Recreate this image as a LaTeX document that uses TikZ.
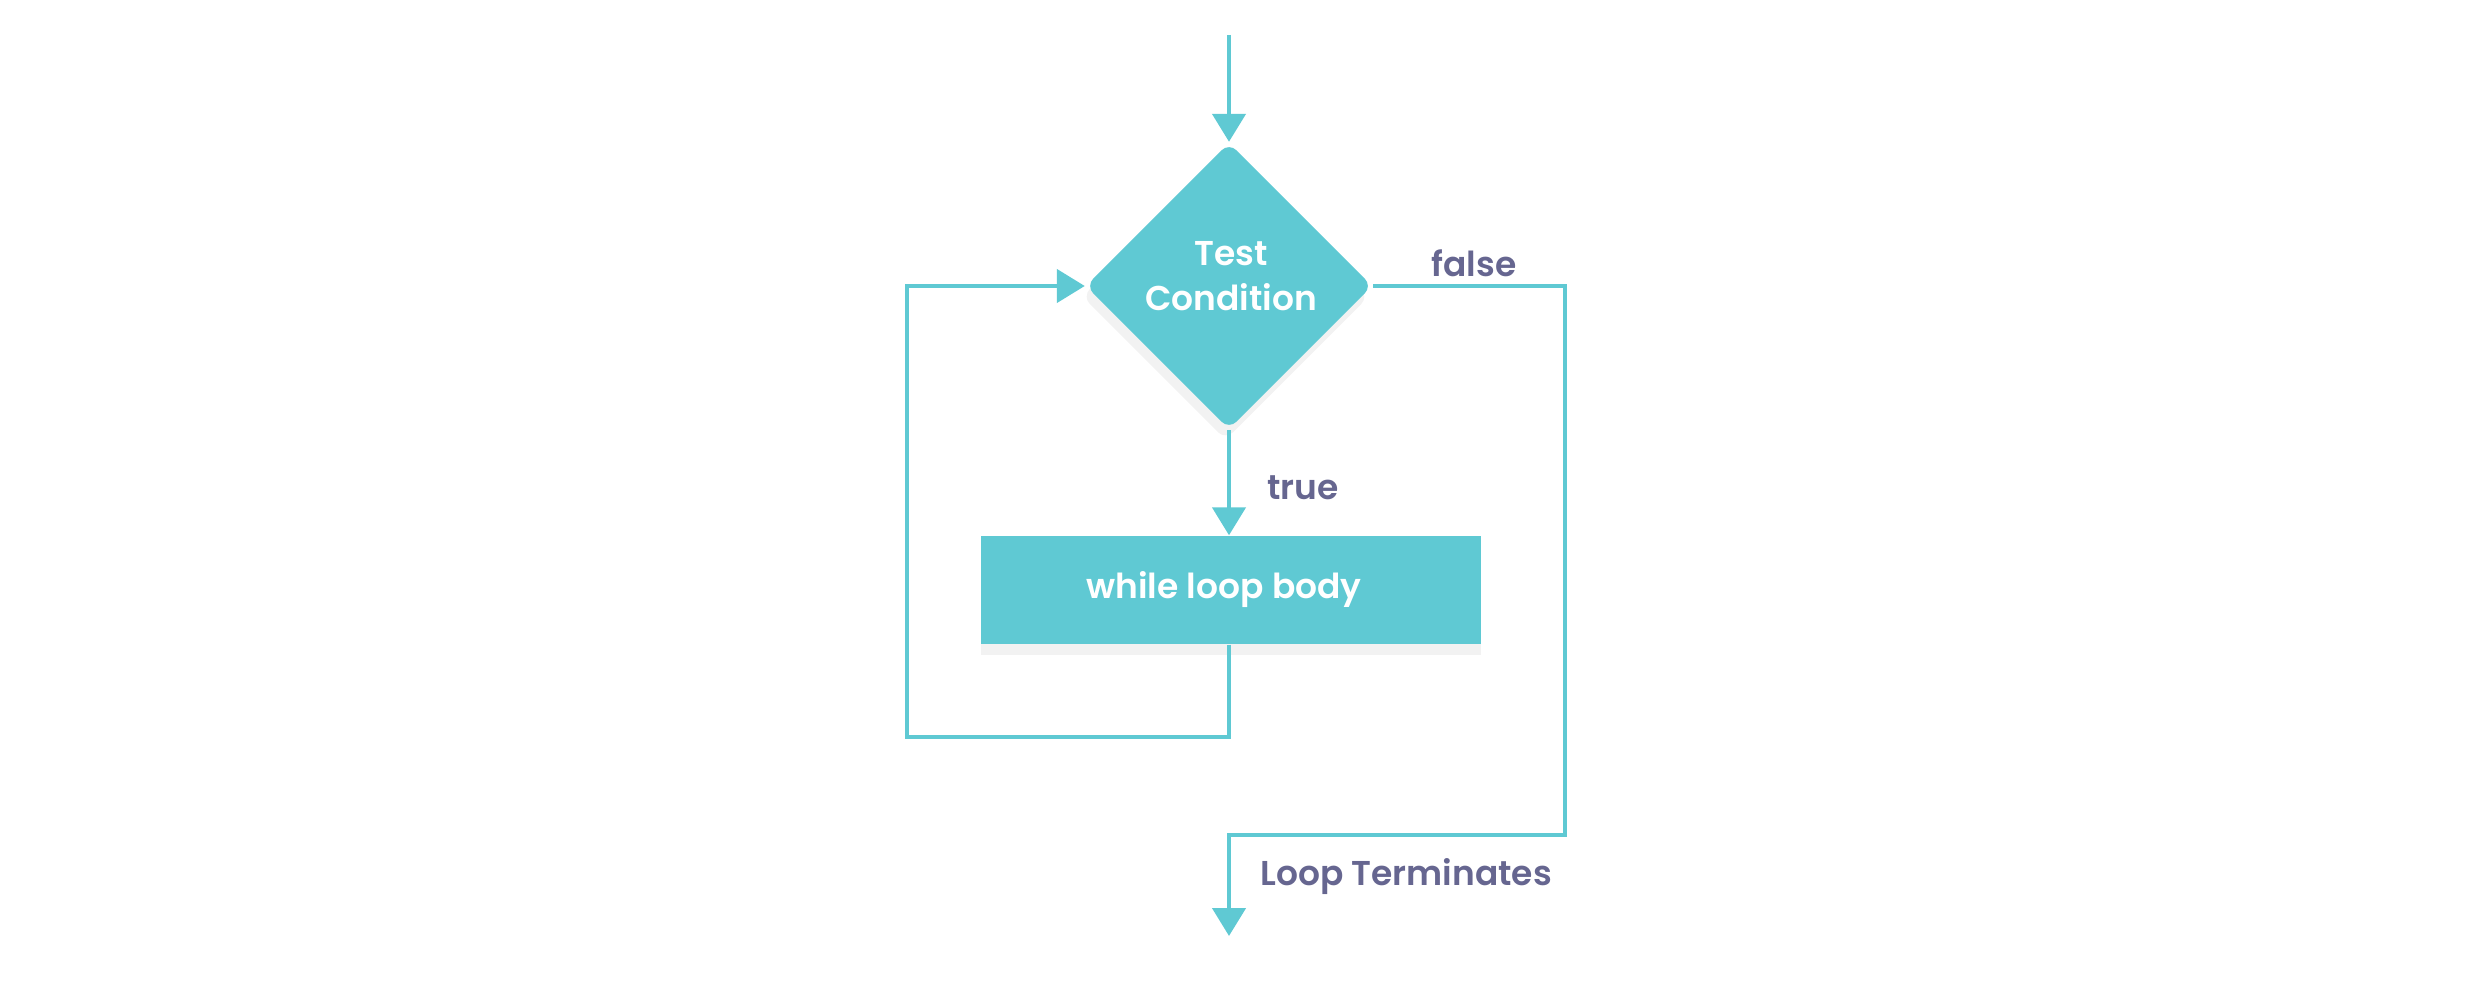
\documentclass[tikz,border=0pt]{standalone}
\usepackage{fontspec}
\setmainfont{Poppins}[BoldFont={Poppins SemiBold}]
\usetikzlibrary{shapes.geometric,arrows.meta,shadows}
\definecolor{teal}{HTML}{5FC9D3}
\definecolor{labelc}{HTML}{666690}
\tikzset{
  flow/.style={draw=teal, line width=1.3pt, -{Triangle[width=0.33cm,length=0.28cm]}},
  decision/.style={shape=diamond, fill=teal, minimum width=2.87cm, minimum height=2.87cm, inner sep=0pt, rounded corners=3pt, drop shadow={shadow xshift=-1pt, shadow yshift=-3pt, opacity=0.10, fill=gray}},
  body/.style={shape=rectangle, fill=teal, minimum width=5.0cm, minimum height=1.08cm, text=white, font=\bfseries\fontsize{9.8}{13}\selectfont, drop shadow={shadow xshift=0pt, shadow yshift=-3pt, opacity=0.10, fill=gray}},
  inlbl/.style={text=white, align=center, font=\bfseries\fontsize{9.8}{13}\selectfont, inner sep=0pt},
  lbl/.style={text=labelc, font=\bfseries\fontsize{9.8}{13}\selectfont, inner sep=0pt}
}
\begin{document}
\begin{tikzpicture}
\useasboundingbox (0,0) rectangle (24.74,-9.82);
\coordinate (start) at (12.29,-0.35);
\node[decision] (test) at (12.29,-2.86) {};
\node[inlbl] (testtxt) at (12.31,-2.76) {Test\\Condition};
\node[body] (loop) at (12.31,-5.90) {while loop body\hspace*{0.14cm}};
\coordinate (lb1) at (12.29,-7.37);
\coordinate (lb2) at (9.07,-7.37);
\coordinate (lb3) at (9.07,-2.86);
\coordinate (f1) at (15.65,-2.86);
\coordinate (f2) at (15.65,-8.35);
\coordinate (f3) at (12.29,-8.35);
\coordinate (fend) at (12.29,-9.36);
\draw[flow] (start) -- (test.north);
\draw[flow] (test.south) -- (loop.north -| test.south);
\draw[flow] (loop.south -| lb1) -- (lb1) -- (lb2) -- (lb3) -- (test.west);
\draw[flow] (test.east) -- (f1) -- (f2) -- (f3) -- (fend);
\node[lbl] (tfalse) at (14.74,-2.63) {false};
\node[lbl] (ttrue) at (13.03,-4.88) {true};
\node[lbl] (tterm) at (14.06,-8.77) {Loop Terminates};
\end{tikzpicture}
\end{document}
